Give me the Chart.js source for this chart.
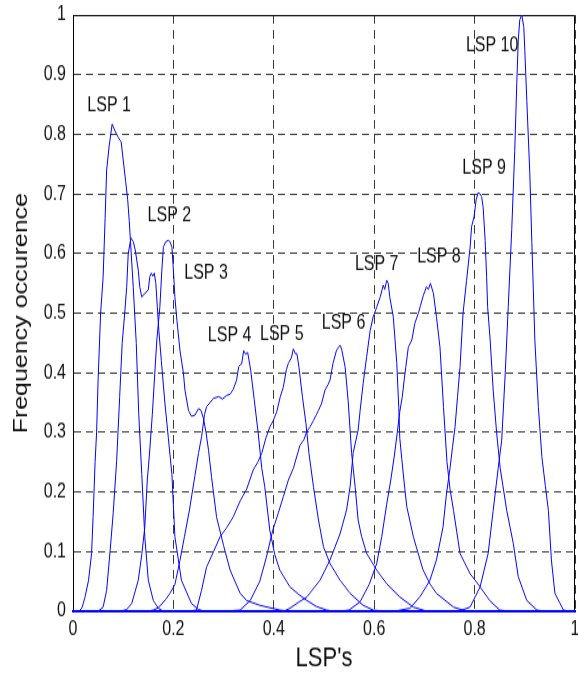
<!DOCTYPE html>
<html lang="en">
<head>
<meta charset="UTF-8">
<title>LSP frequency occurence</title>
<script src="https://cdn.jsdelivr.net/npm/chart.js"></script>
<style>
    body { margin: 0; background: #fff; }
    #lspChart { display: block; }
</style>
</head>
<body>
<!-- the reference is drawn a little taller than wide, so the
     540px high canvas is shown stretched to 675px (inline style, so Chart.js keeps it) -->
<canvas id="lspChart" width="578" height="540" style="width:578px;height:675px"></canvas>
<script>
// [x, y] points, one list per LSP
const lsp1 = [[0,0],[0.012,0],[0.018,0.006],[0.024,0.024],[0.031,0.052],[0.037,0.097],[0.040,0.158],[0.044,0.250],[0.047,0.300],[0.050,0.388],[0.055,0.500],[0.060,0.560],[0.064,0.660],[0.067,0.740],[0.072,0.780],[0.078,0.817],[0.084,0.805],[0.090,0.795],[0.096,0.787],[0.100,0.757],[0.105,0.720],[0.109,0.690],[0.112,0.655],[0.120,0.544],[0.126,0.450],[0.131,0.330],[0.137,0.230],[0.143,0.125],[0.150,0.052],[0.160,0.018],[0.170,0.005],[0.180,0],[1,0]];
const lsp2 = [[0,0],[0.050,0],[0.060,0.007],[0.067,0.035],[0.074,0.102],[0.080,0.164],[0.087,0.253],[0.093,0.360],[0.098,0.450],[0.103,0.500],[0.107,0.544],[0.110,0.600],[0.1155,0.626],[0.120,0.620],[0.124,0.606],[0.127,0.589],[0.130,0.572],[0.133,0.544],[0.137,0.527],[0.143,0.533],[0.150,0.539],[0.153,0.561],[0.156,0.567],[0.159,0.562],[0.162,0.567],[0.165,0.550],[0.168,0.510],[0.171,0.471],[0.176,0.420],[0.183,0.350],[0.190,0.290],[0.197,0.230],[0.203,0.125],[0.216,0.052],[0.236,0.013],[0.250,0.003],[0.262,0],[1,0]];
const lsp3 = [[0,0],[0.095,0],[0.107,0.003],[0.117,0.013],[0.130,0.052],[0.137,0.095],[0.143,0.141],[0.148,0.220],[0.152,0.260],[0.158,0.330],[0.163,0.400],[0.167,0.455],[0.173,0.510],[0.177,0.572],[0.180,0.611],[0.185,0.620],[0.190,0.622],[0.193,0.620],[0.197,0.611],[0.200,0.572],[0.203,0.527],[0.207,0.488],[0.213,0.438],[0.220,0.399],[0.223,0.371],[0.230,0.337],[0.236,0.327],[0.243,0.329],[0.250,0.340],[0.255,0.337],[0.260,0.323],[0.265,0.300],[0.270,0.270],[0.276,0.225],[0.286,0.158],[0.300,0.110],[0.313,0.069],[0.333,0.030],[0.346,0.018],[0.372,0.010],[0.412,0.002],[0.430,0],[1,0]];
const lsp4 = [[0,0],[0.150,0],[0.160,0.002],[0.170,0.006],[0.185,0.020],[0.193,0.030],[0.203,0.045],[0.213,0.085],[0.222,0.125],[0.232,0.170],[0.243,0.228],[0.250,0.265],[0.256,0.292],[0.262,0.330],[0.266,0.343],[0.273,0.350],[0.280,0.357],[0.290,0.360],[0.298,0.356],[0.306,0.362],[0.313,0.364],[0.319,0.372],[0.326,0.388],[0.330,0.410],[0.333,0.413],[0.336,0.415],[0.340,0.437],[0.344,0.431],[0.348,0.434],[0.354,0.404],[0.361,0.355],[0.369,0.298],[0.376,0.240],[0.382,0.209],[0.392,0.136],[0.402,0.095],[0.412,0.069],[0.432,0.041],[0.450,0.028],[0.466,0.018],[0.485,0.008],[0.505,0.002],[0.520,0],[1,0]];
const lsp5 = [[0,0],[0.230,0],[0.246,0.002],[0.256,0.035],[0.266,0.074],[0.280,0.100],[0.293,0.125],[0.306,0.140],[0.319,0.158],[0.333,0.185],[0.346,0.205],[0.359,0.237],[0.368,0.250],[0.376,0.265],[0.384,0.290],[0.392,0.309],[0.399,0.320],[0.406,0.335],[0.413,0.360],[0.419,0.376],[0.425,0.405],[0.429,0.416],[0.435,0.425],[0.439,0.440],[0.443,0.432],[0.446,0.432],[0.450,0.410],[0.457,0.360],[0.464,0.315],[0.470,0.265],[0.479,0.209],[0.489,0.153],[0.499,0.108],[0.512,0.080],[0.532,0.052],[0.552,0.030],[0.578,0.010],[0.598,0.002],[0.620,0],[1,0]];
const lsp6 = [[0,0],[0.300,0],[0.333,0.002],[0.353,0.018],[0.372,0.050],[0.385,0.090],[0.398,0.136],[0.409,0.165],[0.419,0.192],[0.429,0.220],[0.439,0.240],[0.452,0.278],[0.460,0.288],[0.466,0.302],[0.472,0.309],[0.479,0.320],[0.485,0.330],[0.489,0.337],[0.495,0.348],[0.502,0.371],[0.508,0.380],[0.512,0.388],[0.518,0.416],[0.525,0.438],[0.532,0.446],[0.535,0.440],[0.542,0.410],[0.548,0.354],[0.552,0.304],[0.555,0.265],[0.562,0.209],[0.568,0.153],[0.575,0.125],[0.585,0.097],[0.605,0.069],[0.625,0.046],[0.651,0.024],[0.678,0.007],[0.705,0],[1,0]];
const lsp7 = [[0,0],[0.420,0],[0.432,0.005],[0.449,0.015],[0.466,0.024],[0.492,0.052],[0.512,0.086],[0.532,0.130],[0.545,0.170],[0.552,0.209],[0.558,0.265],[0.568,0.304],[0.572,0.337],[0.578,0.382],[0.585,0.427],[0.592,0.471],[0.598,0.494],[0.605,0.510],[0.612,0.527],[0.618,0.547],[0.621,0.540],[0.625,0.555],[0.628,0.550],[0.631,0.527],[0.638,0.494],[0.645,0.416],[0.649,0.340],[0.651,0.290],[0.655,0.255],[0.661,0.205],[0.665,0.175],[0.678,0.125],[0.697,0.070],[0.711,0.046],[0.724,0.030],[0.758,0.007],[0.784,0],[1,0]];
const lsp8 = [[0,0],[0.530,0],[0.550,0.002],[0.572,0.016],[0.590,0.045],[0.605,0.080],[0.615,0.125],[0.625,0.180],[0.633,0.220],[0.640,0.260],[0.646,0.300],[0.651,0.335],[0.656,0.360],[0.660,0.390],[0.663,0.410],[0.668,0.443],[0.675,0.455],[0.681,0.483],[0.688,0.500],[0.692,0.512],[0.698,0.530],[0.704,0.544],[0.708,0.540],[0.712,0.550],[0.718,0.533],[0.724,0.494],[0.731,0.443],[0.738,0.343],[0.745,0.250],[0.751,0.205],[0.758,0.169],[0.771,0.097],[0.791,0.063],[0.811,0.041],[0.830,0.018],[0.850,0.002],[0.870,0],[1,0]];
const lsp9 = [[0,0],[0.640,0],[0.671,0.005],[0.691,0.024],[0.711,0.052],[0.724,0.086],[0.737,0.141],[0.744,0.197],[0.751,0.240],[0.756,0.275],[0.761,0.309],[0.766,0.360],[0.771,0.410],[0.777,0.500],[0.784,0.555],[0.791,0.610],[0.794,0.645],[0.799,0.662],[0.803,0.690],[0.807,0.702],[0.811,0.700],[0.814,0.695],[0.817,0.678],[0.821,0.622],[0.824,0.560],[0.826,0.510],[0.831,0.455],[0.837,0.371],[0.844,0.298],[0.851,0.240],[0.864,0.169],[0.877,0.114],[0.887,0.058],[0.904,0.018],[0.924,0.002],[0.940,0],[1,0]];
const lsp10 = [[0,0],[0.760,0],[0.775,0.002],[0.791,0.007],[0.811,0.041],[0.827,0.097],[0.837,0.169],[0.847,0.240],[0.854,0.287],[0.861,0.399],[0.867,0.510],[0.874,0.640],[0.880,0.773],[0.884,0.885],[0.887,0.958],[0.890,0.992],[0.894,1.000],[0.898,0.980],[0.900,0.941],[0.904,0.857],[0.910,0.734],[0.914,0.620],[0.917,0.539],[0.920,0.455],[0.927,0.343],[0.934,0.259],[0.941,0.210],[0.947,0.169],[0.953,0.086],[0.960,0.030],[0.977,0.002],[0.990,0],[1,0]];

// text labels placed next to the peaks
const labelText = ['LSP 1', 'LSP 2', 'LSP 3', 'LSP 4', 'LSP 5', 'LSP 6', 'LSP 7', 'LSP 8', 'LSP 9', 'LSP 10'];
const labelX = [0.072, 0.192, 0.265, 0.312, 0.416, 0.539, 0.605, 0.729, 0.819, 0.835];
const labelY = [0.847, 0.663, 0.567, 0.463, 0.465, 0.483, 0.581, 0.594, 0.742, 0.948];

const xTickLabels = ['0', '0.2', '0.4', '0.6', '0.8', '1'];
const yTickLabels = ['0', '0.1', '0.2', '0.3', '0.4', '0.5', '0.6', '0.7', '0.8', '0.9', '1'];

const series = [lsp1, lsp2, lsp3, lsp4, lsp5, lsp6, lsp7, lsp8, lsp9, lsp10];

const FONT = '"Liberation Sans", Arial, Helvetica, sans-serif';
const TEXT = '#111';

// top and right sides of the box
const framePlugin = {
    id: 'frame',
    beforeDatasetsDraw(chart) {
        const { ctx, chartArea: a } = chart;
        const l = Math.round(a.left) + 0.5, r = Math.round(a.right) - 0.5;
        const t = Math.round(a.top) + 0.5, b = Math.round(a.bottom);
        ctx.save();
        ctx.strokeStyle = '#000';
        ctx.lineWidth = 1;
        ctx.beginPath();
        ctx.moveTo(l, t);
        ctx.lineTo(r, t);
        ctx.lineTo(r, b);
        ctx.stroke();
        ctx.restore();
    }
};

const labelPlugin = {
    id: 'lspLabels',
    afterDatasetsDraw(chart) {
        const { ctx, scales } = chart;
        ctx.save();
        ctx.font = '16px ' + FONT;
        ctx.fillStyle = TEXT;
        ctx.textAlign = 'center';
        ctx.textBaseline = 'middle';
        labelText.forEach((t, i) => {
            ctx.fillText(t, scales.x.getPixelForValue(labelX[i]), scales.y.getPixelForValue(labelY[i]));
        });
        ctx.restore();
    }
};

const gridStyle = { color: 'rgba(0,0,0,0.78)', lineWidth: 1, drawTicks: false };

new Chart(document.getElementById('lspChart'), {
    type: 'scatter',
    data: {
        datasets: series.map((pts, i) => ({
            label: labelText[i],
            data: pts.map(p => ({ x: p[0], y: p[1] })),
            showLine: true,
            borderColor: '#0000ff',
            borderWidth: 1,
            pointRadius: 0,
            fill: false,
            tension: 0,
            clip: false
        }))
    },
    options: {
        responsive: false,
        animation: false,
        events: [],
        layout: { padding: { top: 12, right: 3, left: 0, bottom: 0 } },
        plugins: { legend: { display: false }, tooltip: { enabled: false } },
        scales: {
            x: {
                type: 'linear',
                min: 0,
                max: 1,
                afterFit: s => { s.height = 51; s.paddingLeft = 0; s.paddingRight = 0; },
                ticks: {
                    stepSize: 0.2,
                    padding: 5,
                    maxRotation: 0,
                    autoSkip: false,
                    color: TEXT,
                    font: { family: FONT, size: 16 },
                    callback: v => xTickLabels[Math.round(v * 5)]
                },
                grid: gridStyle,
                border: { color: '#0000ff', width: 2, dash: [7, 5] },
                title: {
                    display: true,
                    text: "LSP's",
                    color: TEXT,
                    font: { family: FONT, size: 22 },
                    padding: { top: 0, bottom: 0 }
                }
            },
            y: {
                min: 0,
                max: 1,
                afterFit: s => { s.width = 73; s.paddingTop = 0; s.paddingBottom = 0; },
                ticks: {
                    stepSize: 0.1,
                    padding: 7,
                    color: TEXT,
                    font: { family: FONT, size: 16 },
                    callback: v => yTickLabels[Math.round(v * 10)]
                },
                grid: gridStyle,
                border: { color: '#000', width: 1, dash: [7, 5] },
                title: {
                    display: true,
                    text: 'Frequency occurence',
                    color: TEXT,
                    font: { family: FONT, size: 20 },
                    padding: { top: 9, bottom: 0 }
                }
            }
        }
    },
    plugins: [framePlugin, labelPlugin]
});
</script>
</body>
</html>
